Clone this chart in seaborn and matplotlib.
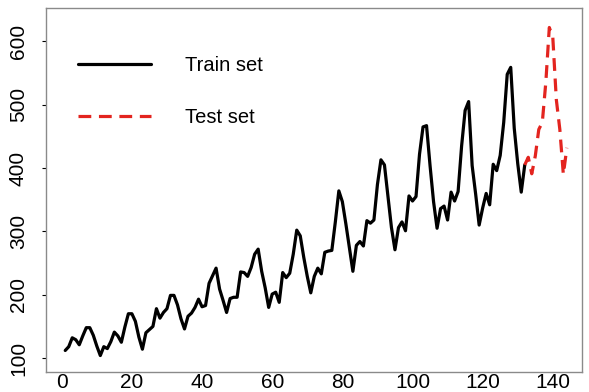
import numpy as np
import pandas as pd
import matplotlib
matplotlib.use("Agg")
import matplotlib.pyplot as plt
import seaborn as sns

# Monthly airline passengers (thousands), 1949-1960
train_values = [
    112, 118, 132, 129, 121, 135, 148, 148, 136, 119, 104, 118,
    115, 126, 141, 135, 125, 149, 170, 170, 158, 133, 114, 140,
    145, 150, 178, 163, 172, 178, 199, 199, 184, 162, 146, 166,
    171, 180, 193, 181, 183, 218, 230, 242, 209, 191, 172, 194,
    196, 196, 236, 235, 229, 243, 264, 272, 237, 211, 180, 201,
    204, 188, 235, 227, 234, 264, 302, 293, 259, 229, 203, 229,
    242, 233, 267, 269, 270, 315, 364, 347, 312, 274, 237, 278,
    284, 277, 317, 313, 318, 374, 413, 405, 355, 306, 271, 306,
    315, 301, 356, 348, 355, 422, 465, 467, 404, 347, 305, 336,
    340, 318, 362, 348, 363, 435, 491, 505, 404, 359, 310, 337,
    360, 342, 406, 396, 420, 472, 548, 559, 463, 407, 362, 405,
]
test_values = [417, 391, 419, 461, 472, 535, 622, 606, 508, 461, 390, 432]

x_ticks = [0, 20, 40, 60, 80, 100, 120, 140]
y_ticks = [100, 200, 300, 400, 500, 600]
series_labels = ["Train set", "Test set"]

n_train = len(train_values)
train_df = pd.DataFrame({"t": np.arange(1, n_train + 1), "y": train_values})
# test segment joins on to the last training month
test_df = pd.DataFrame({
    "t": np.arange(n_train, n_train + len(test_values) + 1),
    "y": [train_values[-1]] + test_values,
})

sns.set_theme(style="white")
plt.rcParams["font.family"] = ["Liberation Sans", "DejaVu Sans"]
plt.rcParams["text.color"] = "black"

fig = plt.figure(figsize=(5.89, 3.92), dpi=100)
ax = fig.add_axes([0.078, 0.051, 0.910, 0.929])

sns.lineplot(data=train_df, x="t", y="y", ax=ax, color="black",
             linewidth=2.3, label=series_labels[0])
sns.lineplot(data=test_df, x="t", y="y", ax=ax, color="#e3241f",
             linewidth=2.3, label=series_labels[1])
ax.lines[1].set_dashes([4.0, 2.4])

ax.set_xlim(-4.5, 148.3)
ax.set_ylim(78, 653)
ax.set_xticks(x_ticks)
ax.set_yticks(y_ticks)
ax.set_xlabel("")
ax.set_ylabel("")

ax.tick_params(axis="x", length=0, pad=0.5, labelsize=15, colors="black")
ax.tick_params(axis="y", length=3, width=0.8, pad=10, labelsize=15,
               colors="black", left=True)
for lab in ax.get_yticklabels():
    lab.set_rotation(90)
    lab.set_va("center")

for sp in ax.spines.values():
    sp.set_color("#8a8a8a")
    sp.set_linewidth(1.0)

leg = ax.legend(loc="upper left", bbox_to_anchor=(0.045, 0.89),
                frameon=False, fontsize=14.5, handlelength=3.6,
                handletextpad=1.7, labelspacing=1.65, borderaxespad=0)
for h in leg.get_lines():
    h.set_linewidth(2.3)
for t in leg.get_texts():
    t.set_color("black")

fig.savefig("out.png", dpi=100)
